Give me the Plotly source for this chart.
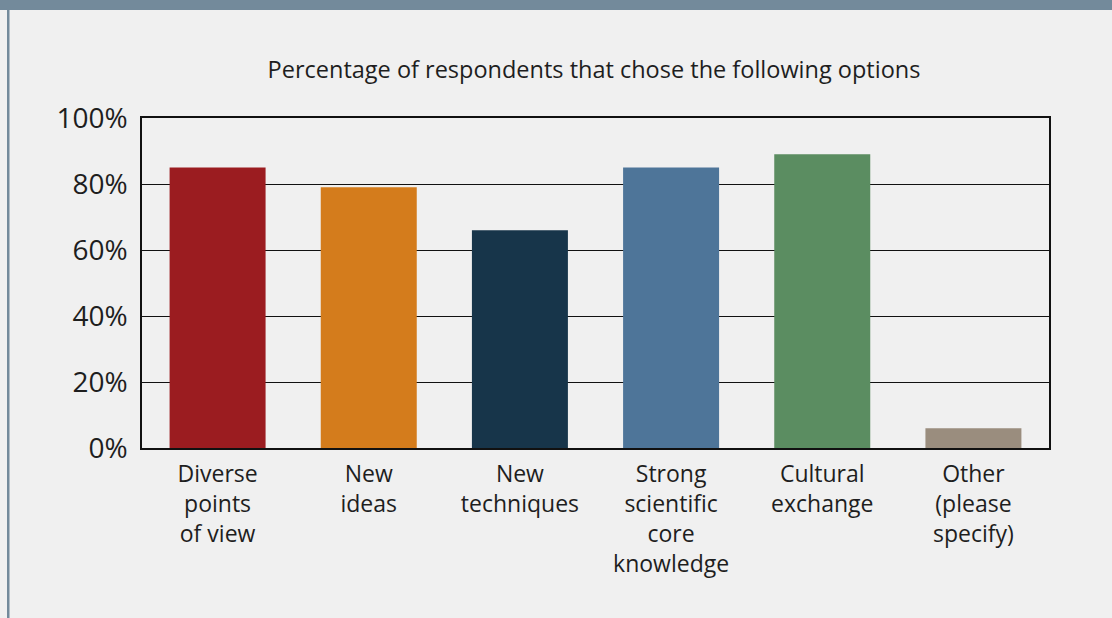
import plotly.graph_objects as go

# Survey results
categories = [
    "Diverse<br>points<br>of view",
    "New<br>ideas",
    "New<br>techniques",
    "Strong<br>scientific<br>core<br>knowledge",
    "Cultural<br>exchange",
    "Other<br>(please<br>specify)",
]
percentages = [85, 79, 66, 85, 89, 6]
bar_colors = ["#9b1c20", "#d47c1c", "#17354a", "#4e7599", "#5b8d61", "#9a8d7e"]
y_ticks = [0, 20, 40, 60, 80, 100]

W, H = 1112, 618
L, R, T, B = 142, 63, 118, 170
pw, ph = W - L - R, H - T - B

def px_x(x):
    return (x - L) / pw

def px_y(y):
    return (H - B - y) / ph

fig = go.Figure(
    go.Bar(
        x=categories,
        y=percentages,
        marker=dict(color=bar_colors, line=dict(width=0)),
        hoverinfo="skip",
    )
)

frame_color = "#f0f0f0"
accent = "#738a9b"
text_color = "#1e1e1e"

fig.update_layout(
    width=W,
    height=H,
    margin=dict(l=L, r=R, t=T, b=B),
    paper_bgcolor=frame_color,
    plot_bgcolor=frame_color,
    bargap=0.365,
    showlegend=False,
    font=dict(family="Open Sans", color=text_color),
    title=dict(
        text="Percentage of respondents that chose the following options",
        x=px_x(594), xref="paper", xanchor="center",
        y=1 - 70 / H, yanchor="middle",
        font=dict(size=23.5, color=text_color),
    ),
    shapes=[
        dict(type="rect", xref="paper", yref="paper",
             x0=px_x(0), x1=px_x(W), y0=px_y(10), y1=px_y(0),
             fillcolor=accent, line=dict(width=0), layer="below"),
        dict(type="rect", xref="paper", yref="paper",
             x0=px_x(7), x1=px_x(9.5), y0=px_y(H), y1=px_y(10),
             fillcolor=accent, line=dict(width=0), layer="below"),
    ],
)

fig.update_xaxes(
    showline=True, linecolor="#111111", linewidth=1.5, mirror=True,
    showgrid=False, ticks="", ticklabelstandoff=5,
    tickfont=dict(size=23, color=text_color),
)
fig.update_yaxes(
    range=[0, 100], tickvals=y_ticks, ticktext=[f"{v}%" for v in y_ticks],
    showline=True, linecolor="#111111", linewidth=1.5, mirror=True,
    showgrid=True, gridcolor="#111111", gridwidth=1,
    zeroline=False, ticks="", ticklabelstandoff=7,
    tickfont=dict(size=28, color=text_color),
)

fig.write_html("out.html")
